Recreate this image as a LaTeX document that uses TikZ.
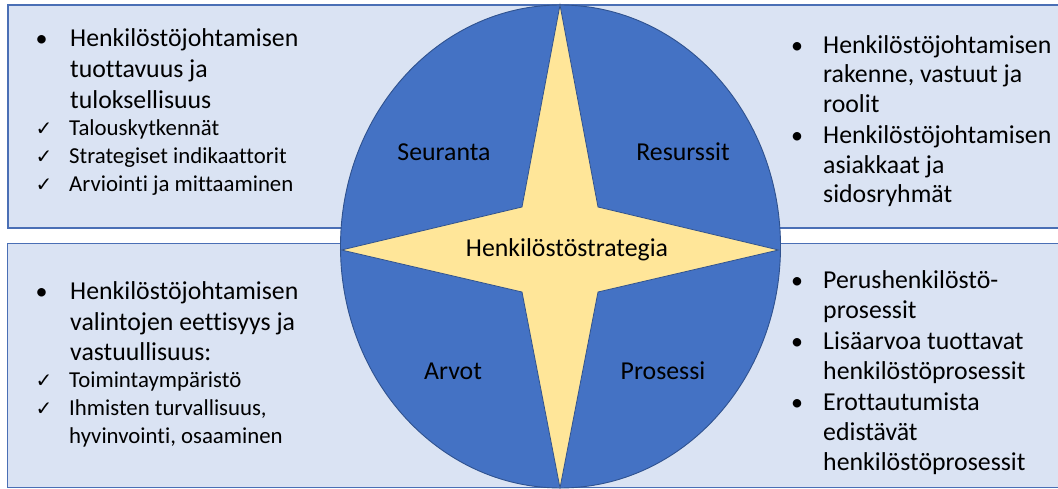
\documentclass[tikz,border=0pt]{standalone}
\usepackage{fontspec}
\usetikzlibrary{shapes.geometric}
\setmainfont[Ligatures=NoCommon]{Carlito}
\newfontfamily\symfont{DejaVu Sans}
\definecolor{boxfill}{HTML}{DAE3F3}
\definecolor{boxline}{HTML}{4A6FB5}
\definecolor{circfill}{HTML}{4472C4}
\definecolor{circline}{HTML}{2F528F}
\definecolor{starfill}{HTML}{FFE699}
\tikzset{
  panel/.style={fill=boxfill, draw=boxline, line width=1.6pt},
  bigtxt/.style={anchor=base west, inner sep=0pt, font=\fontsize{25.8}{30}\selectfont},
  smalltxt/.style={anchor=base west, inner sep=0pt, font=\fontsize{22.8}{27}\selectfont},
  bulletmark/.style={anchor=base, inner sep=0pt, font=\fontsize{24}{30}\selectfont},
  checkmark/.style={anchor=base, inner sep=0pt, font=\symfont\fontsize{20}{22}\selectfont},
  quadlabel/.style={inner sep=0pt, font=\fontsize{25.8}{30}\selectfont}
}
\begin{document}
\begin{tikzpicture}[x=1pt,y=-1pt]
\useasboundingbox (0,0) rectangle (1058,489);
\clip (0,0) rectangle (1058,489);
% panels
\path[panel] (8,5) rectangle (1075,228);
\path[panel] (7.5,243.5) rectangle (1075,487.5);
% circle
\node[ellipse, minimum width=440pt, minimum height=483pt, fill=circfill, draw=circline, line width=0.9pt, inner sep=0pt] (disc) at (560.5,246.5) {};
% star
\coordinate (tT) at (560,5);
\coordinate (tR) at (778.5,250);
\coordinate (tB) at (560,488);
\coordinate (tL) at (341.5,250);
\coordinate (iTR) at (598,207);
\coordinate (iBR) at (598,292);
\coordinate (iBL) at (522,292);
\coordinate (iTL) at (522,207);
\draw[fill=starfill, draw=circline, line width=0.8pt, line join=miter] (tT) -- (iTR) -- (tR) -- (iBR) -- (tB) -- (iBL) -- (tL) -- (iTL) -- cycle;
% labels in circle
\node[quadlabel] (seur) at (444,152) {Seuranta};
\node[quadlabel] (res) at (683,152) {Resurssit};
\node[quadlabel] (arv) at (453,371) {Arvot};
\node[quadlabel] (pros) at (663,371) {Prosessi};
\node[quadlabel] (strat) at (567,250) {Henkilöstöstrategia};
% top-left
\node[bulletmark] (tlb1) at (41.7,46.7) {•};
\node[bigtxt] (tl1) at (70,46.7) {Henkilöstöjohtamisen};
\node[bigtxt] (tl2) at (70,77.3) {tuottavuus ja};
\node[bigtxt] (tl3) at (70,108.3) {tuloksellisuus};
\node[checkmark] (tlc1) at (44,136) {✓};
\node[smalltxt] (tl4) at (69,136) {Talouskytkennät};
\node[checkmark] (tlc2) at (44,164) {✓};
\node[smalltxt] (tl5) at (69,164) {Strategiset indikaattorit};
\node[checkmark] (tlc3) at (44,191.7) {✓};
\node[smalltxt] (tl6) at (69,191.7) {Arviointi ja mittaaminen};
% top-right
\node[bulletmark] (trb1) at (797,53.3) {•};
\node[bigtxt] (tr1) at (823,53.3) {Henkilöstöjohtamisen};
\node[bigtxt] (tr2) at (823,82.8) {rakenne, vastuut ja};
\node[bigtxt] (tr3) at (823,112.3) {roolit};
\node[bulletmark] (trb2) at (797,143.5) {•};
\node[bigtxt] (tr4) at (823,143.5) {Henkilöstöjohtamisen};
\node[bigtxt] (tr5) at (823,173.3) {asiakkaat ja};
\node[bigtxt] (tr6) at (823,203) {sidosryhmät};
% bottom-left
\node[bulletmark] (blb1) at (41.7,299) {•};
\node[bigtxt] (bl1) at (70,299) {Henkilöstöjohtamisen};
\node[bigtxt] (bl2) at (70,330) {valintojen eettisyys ja};
\node[bigtxt] (bl3) at (70,360) {vastuullisuus:};
\node[checkmark] (blc1) at (44,387.3) {✓};
\node[smalltxt] (bl4) at (69,387.3) {Toimintaympäristö};
\node[checkmark] (blc2) at (44,415) {✓};
\node[smalltxt] (bl5) at (69,415) {Ihmisten turvallisuus,};
\node[smalltxt] (bl6) at (69,443.3) {hyvinvointi, osaaminen};
% bottom-right
\node[bulletmark] (brb1) at (797,288.3) {•};
\node[bigtxt] (br1) at (823,288.3) {Perushenkilöstö-};
\node[bigtxt] (br2) at (823,318.3) {prosessit};
\node[bulletmark] (brb2) at (797,349) {•};
\node[bigtxt] (br3) at (823,349) {Lisäarvoa tuottavat};
\node[bigtxt] (br4) at (823,379.3) {henkilöstöprosessit};
\node[bulletmark] (brb3) at (797,410) {•};
\node[bigtxt] (br5) at (823,410) {Erottautumista};
\node[bigtxt] (br6) at (823,440) {edistävät};
\node[bigtxt] (br7) at (823,470) {henkilöstöprosessit};
\end{tikzpicture}
\end{document}
